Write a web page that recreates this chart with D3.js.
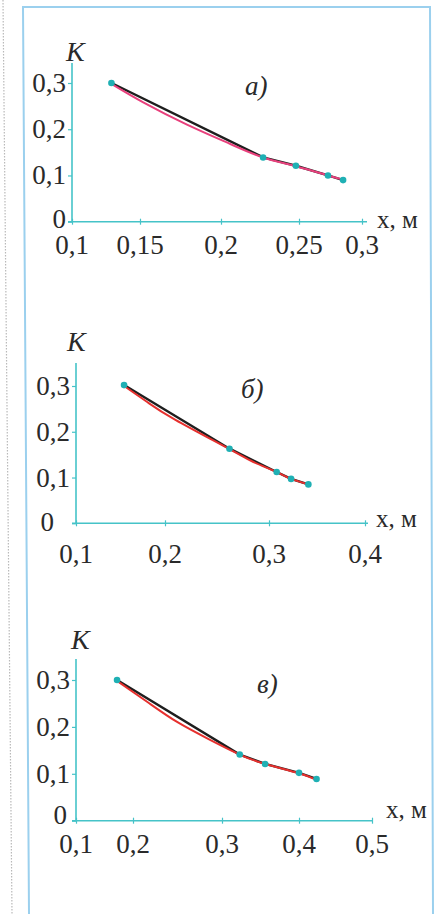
<!DOCTYPE html>
<html>
<head>
<meta charset="utf-8">
<script src="https://cdn.jsdelivr.net/npm/d3@7/dist/d3.min.js"></script>
<style>
  html, body { margin: 0; padding: 0; background: #fff; }
</style>
</head>
<body>
<div id="chart"></div>
<script>
// --- values ---
var yTicks = [0, 0.1, 0.2, 0.3];

// панель а)
var xTicksA = [0.1, 0.15, 0.2, 0.25, 0.3];
var xA = [0.129, 0.227, 0.248, 0.273, 0.285];
var kA = [0.300, 0.139, 0.121, 0.100, 0.090];
var fitXA = [0.129, 0.152, 0.179, 0.206, 0.227, 0.248, 0.273, 0.285];
var fitKA = [0.298, 0.258, 0.210, 0.168, 0.139, 0.120, 0.100, 0.091];

// панель б)
var xTicksB = [0.1, 0.2, 0.3, 0.4];
var xB = [0.154, 0.262, 0.308, 0.323, 0.341];
var kB = [0.302, 0.163, 0.112, 0.097, 0.085];
var fitXB = [0.154, 0.180, 0.210, 0.262, 0.285, 0.308, 0.323, 0.341];
var fitKB = [0.300, 0.265, 0.226, 0.162, 0.134, 0.112, 0.097, 0.085];

// панель в)
var xTicksC = [0.1, 0.2, 0.3, 0.4, 0.5];
var xC = [0.172, 0.323, 0.356, 0.400, 0.424];
var kC = [0.300, 0.141, 0.121, 0.102, 0.089];
var fitXC = [0.172, 0.217, 0.250, 0.286, 0.323, 0.356, 0.400, 0.424];
var fitKC = [0.298, 0.252, 0.210, 0.173, 0.141, 0.121, 0.101, 0.087];

var fmt = function(v){ return String(v).replace('.', ','); };
var zip = function(a, b){ return a.map(function(v, i){ return {x: v, k: b[i]}; }); };

var W = 435, H = 914;
var serif = '"Liberation Serif", "Times New Roman", serif';
var svg = d3.select('#chart').append('svg').attr('width', W).attr('height', H)
  .attr('font-family', serif);

// frame of the page scan
svg.append('path').attr('d', 'M3,0 L12,914').attr('stroke', '#b9b9b9')
  .attr('stroke-width', 1.2).attr('stroke-dasharray', '1.5,1.5').attr('fill', 'none');
svg.append('path').attr('d', 'M29,914 L23,7 L430,7 L433,914').attr('stroke', '#9bd0ee')
  .attr('stroke-width', 2).attr('fill', 'none');

// x range is uneven on the scan, so each tick gets its own pixel
var panels = [
  {label: 'а)', ticks: xTicksA, xr: [72, 140, 221, 299, 362], x0: 72, xEnd: 367,
   y0: 221.7, y3: 83, yTop: 63, pts: zip(xA, kA), fit: zip(fitXA, fitKA), fitColor: '#e8407c',
   lab: [245, 95], kPos: [66, 61], unit: [377, 228], zeroX: 66, zeroDy: 6, tickY: 254},
  {label: 'б)', ticks: xTicksB, xr: [76, 165, 269, 365], x0: 76, xEnd: 368,
   y0: 523.3, y3: 386, yTop: 363, pts: zip(xB, kB), fit: zip(fitXB, fitKB), fitColor: '#e6302e',
   lab: [241, 398], kPos: [67, 351], unit: [376, 527], zeroX: 54, zeroDy: 8, tickY: 563},
  {label: 'в)', ticks: xTicksC, xr: [76, 133, 222, 299, 372], x0: 76, xEnd: 373,
   y0: 820.7, y3: 680, yTop: 659, pts: zip(xC, kC), fit: zip(fitXC, fitKC), fitColor: '#e6302e',
   lab: [257, 693], kPos: [71, 649], unit: [386, 818], zeroX: 67, zeroDy: 3, tickY: 853}
];

var axisColor = '#45c3c8';

panels.forEach(function(p){
  var x = d3.scaleLinear().domain(p.ticks).range(p.xr);
  var y = d3.scaleLinear().domain([0, 0.3]).range([p.y0, p.y3]);
  var g = svg.append('g');

  // axes
  g.append('line').attr('x1', p.x0 - 4).attr('x2', p.xEnd).attr('y1', p.y0).attr('y2', p.y0)
    .attr('stroke', axisColor).attr('stroke-width', 1.6);
  g.append('line').attr('x1', p.x0).attr('x2', p.x0).attr('y1', p.y0).attr('y2', p.yTop)
    .attr('stroke', axisColor).attr('stroke-width', 1.6);

  var xa = g.append('g').attr('transform', 'translate(0,' + p.y0 + ')')
    .call(d3.axisBottom(x).tickValues(p.ticks).tickSize(3).tickFormat(''));
  xa.select('.domain').remove();
  xa.selectAll('.tick line').attr('stroke', axisColor).attr('y1', -3).attr('stroke-width', 1.2);

  var ya = g.append('g').attr('transform', 'translate(' + p.x0 + ',0)')
    .call(d3.axisLeft(y).tickValues(yTicks).tickSize(4).tickFormat(''));
  ya.select('.domain').remove();
  ya.selectAll('.tick line').attr('stroke', axisColor).attr('stroke-width', 1.2);

  // tick labels
  g.selectAll('.xl').data(p.ticks).enter().append('text')
    .attr('x', function(d){ return x(d); }).attr('y', p.tickY)
    .attr('text-anchor', 'middle').attr('font-size', 27).attr('fill', '#2a2a2a').text(fmt);
  g.selectAll('.yl').data(yTicks).enter().append('text')
    .attr('x', function(d){ return d === 0 ? p.zeroX : p.x0 - 6; })
    .attr('y', function(d){ return y(d) + (d === 0 ? p.zeroDy : 9); })
    .attr('text-anchor', 'end').attr('font-size', 27).attr('fill', '#2a2a2a').text(fmt);

  // names
  g.append('text').attr('x', p.kPos[0]).attr('y', p.kPos[1]).attr('font-size', 28)
    .attr('font-style', 'italic').attr('fill', '#2a2a2a').text('K');
  g.append('text').attr('x', p.unit[0]).attr('y', p.unit[1]).attr('font-size', 25)
    .attr('fill', '#2a2a2a').text('x, м');
  g.append('text').attr('x', p.lab[0]).attr('y', p.lab[1]).attr('font-size', 27)
    .attr('font-style', 'italic').attr('fill', '#2a2a2a').text(p.label);

  // experimental polyline and fitted curve
  g.append('path').datum(p.pts)
    .attr('d', d3.line().x(function(d){ return x(d.x); }).y(function(d){ return y(d.k); }))
    .attr('fill', 'none').attr('stroke', '#1e1e1e').attr('stroke-width', 2.4);
  g.append('path').datum(p.fit)
    .attr('d', d3.line().curve(d3.curveNatural).x(function(d){ return x(d.x); }).y(function(d){ return y(d.k); }))
    .attr('fill', 'none').attr('stroke', p.fitColor).attr('stroke-width', 2);

  g.selectAll('.pt').data(p.pts).enter().append('circle')
    .attr('cx', function(d){ return x(d.x); }).attr('cy', function(d){ return y(d.k); })
    .attr('r', 3.3).attr('fill', '#1fb0b4');
});
</script>
</body>
</html>
